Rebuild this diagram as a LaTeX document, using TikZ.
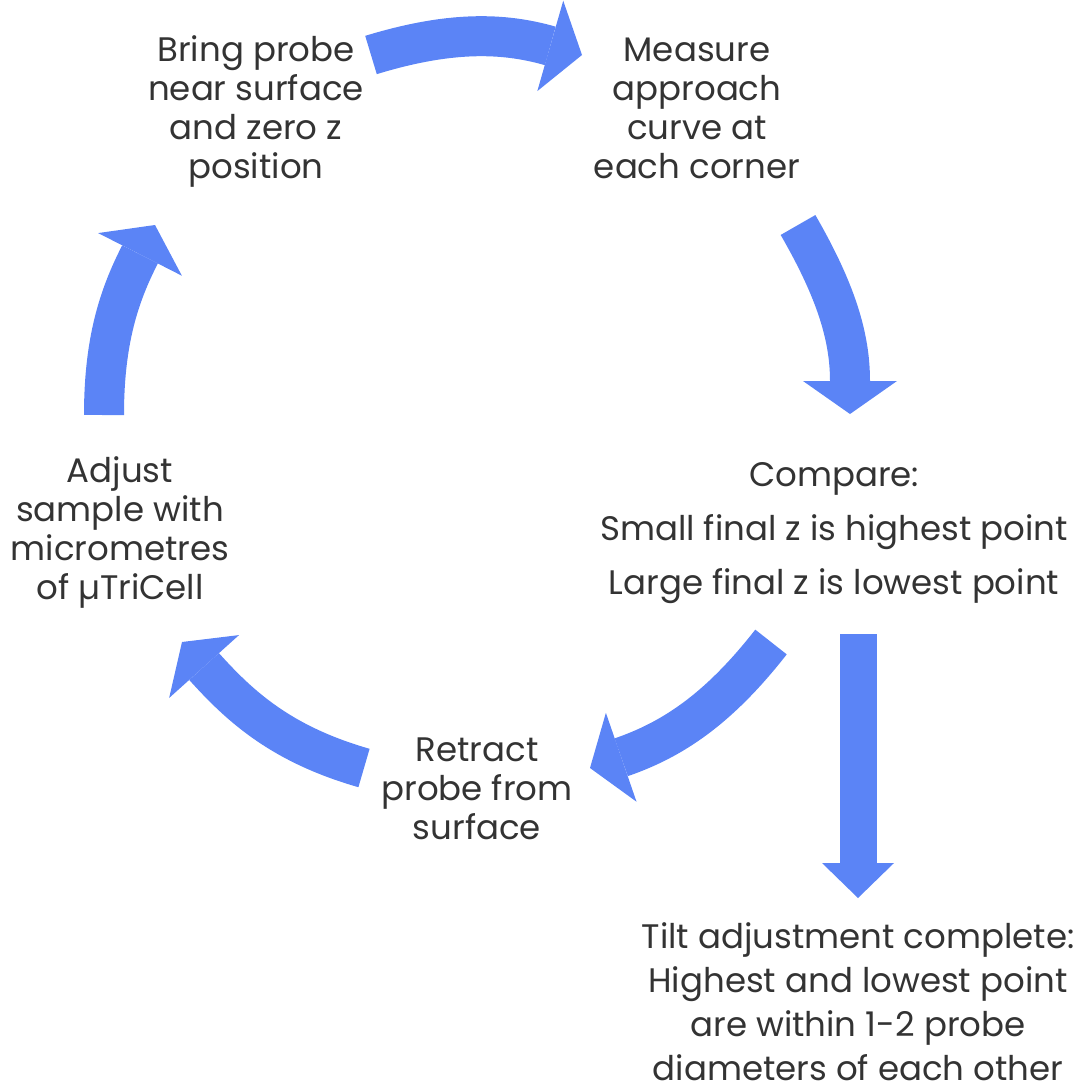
\documentclass[tikz,border=0pt]{standalone}
\usepackage{fontspec}
\setmainfont{Poppins}
\usetikzlibrary{arrows.meta}
\definecolor{flowblue}{RGB}{91,132,246}
\definecolor{textgrey}{RGB}{51,51,51}
\tikzset{
  stage/.style={align=center, text=textgrey, inner sep=0pt,
    font=\fontsize{34}{39}\selectfont},
  fatarrow/.style={draw=flowblue, line width=40pt,
    -{Triangle[length=33pt, width=94pt, line width=0pt]}},
}
\begin{document}
\begin{tikzpicture}[x=1pt,y=1pt]
  \useasboundingbox (0,0) rectangle (1081,-1090);
  % steps of the loop
  \node[stage] (bring) at (256,-111) {Bring probe\\near surface\\and zero z\\position};
  \node[stage] (measure) at (697,-108) {Measure\\approach\\curve at\\each corner};
  \node[stage, font=\fontsize{34}{54}\selectfont] (compare) at (834,-533)
    {Compare:\\Small final z is highest point\\Large final z is lowest point};
  \node[stage] (retract) at (477,-789) {Retract\\probe from\\surface};
  \node[stage] (adjust) at (120,-532) {Adjust\\sample with\\micrometres\\of µTriCell};
  \node[stage, font=\fontsize{34}{44}\selectfont] (tilt) at (858,-1002)
    {Tilt adjustment complete:\\Highest and lowest point\\are within 1-2 probe\\diameters of each other};
  % arrow ends
  \coordinate (a1s) at (371,-55);
  \coordinate (a1e) at (582,-55);
  \coordinate (a2s) at (798,-225);
  \coordinate (a2e) at (850,-414);
  \coordinate (a3s) at (771,-642);
  \coordinate (a3e) at (590,-768);
  \coordinate (a4s) at (364,-768);
  \coordinate (a4e) at (182,-642);
  \coordinate (a5s) at (104,-415);
  \coordinate (a5e) at (155,-225);
  \coordinate (a6s) at (858,-634);
  \coordinate (a6e) at (858,-898);
  \draw[fatarrow] (a1s) to[out=17,in=164] (a1e);
  \draw[fatarrow] (a2s) to[out=-60,in=90] (a2e);
  \draw[fatarrow] (a3s) to[out=232,in=19] (a3e);
  \draw[fatarrow] (a4s) to[out=164,in=312] (a4e);
  \draw[fatarrow] (a5s) to[out=90,in=243] (a5e);
  \draw[fatarrow, line width=37pt, -{Triangle[length=35pt, width=72pt, line width=0pt]}] (a6s) -- (a6e);
\end{tikzpicture}
\end{document}
